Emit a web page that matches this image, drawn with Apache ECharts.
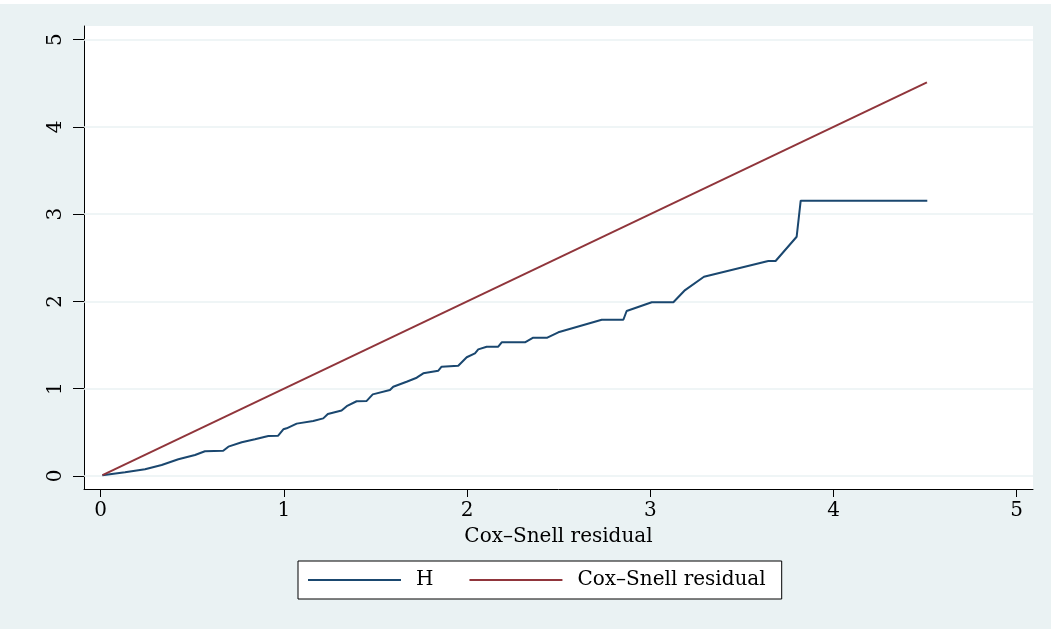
<!DOCTYPE html>
<html>
<head>
<meta charset="utf-8">
<script src="https://cdn.jsdelivr.net/npm/echarts@6/dist/echarts.min.js"></script>
<style>
html,body{margin:0;padding:0;background:#fff;}
#main{width:1051px;height:629px;}
</style>
</head>
<body>
<div id="main"></div>
<script>
// Nelson-Aalen cumulative hazard H against Cox-Snell residual
var hX = [0.009,0.133,0.242,0.333,0.424,0.515,0.569,0.669,0.697,0.770,0.842,0.915,0.969,0.997,
    1.015,1.07,1.16,1.215,1.24,1.315,1.343,1.397,1.452,1.485,1.579,1.597,1.67,1.725,1.761,1.843,1.861,1.952,
    1.998,2.043,2.061,2.107,2.17,2.189,2.316,2.361,2.438,2.498,2.735,2.853,2.871,3.008,
    3.126,3.19,3.293,3.644,3.684,3.799,3.821,4.512];
var hY = [0.008,0.042,0.077,0.126,0.191,0.241,0.283,0.290,0.336,0.386,0.420,0.458,0.462,0.535,
    0.546,0.60,0.63,0.66,0.71,0.75,0.80,0.856,0.86,0.935,0.985,1.023,1.08,1.126,1.176,1.206,1.252,1.263,
    1.36,1.405,1.451,1.481,1.481,1.531,1.531,1.584,1.584,1.646,1.79,1.79,1.89,1.99,
    1.99,2.13,2.283,2.463,2.463,2.741,3.154,3.154];
var csX = [0.01, 4.51];
var csY = [0.01, 4.51];
var ticks = [0, 1, 2, 3, 4, 5];

var Mychart = echarts.init(document.getElementById('main'));
var font = 'DejaVu Serif';
var hData = hX.map(function (x, i) { return [x, hY[i]]; });
var csData = csX.map(function (x, i) { return [x, csY[i]]; });

var option = {
    backgroundColor: '#EAF2F3',
    animation: false,
    graphic: [{type: 'rect', left: 0, top: 0, shape: {width: 1051, height: 4}, style: {fill: '#fff'}}],
    grid: {left: 84, right: 18, top: 26, bottom: 140, show: true, backgroundColor: '#fff', borderWidth: 0},
    xAxis: {
        type: 'value', min: -0.091, max: 5.089,
        name: 'Cox–Snell residual', nameLocation: 'middle', nameGap: 38,
        nameTextStyle: {fontFamily: font, fontSize: 20, color: '#000'},
        axisLine: {onZero: false, lineStyle: {color: '#000', width: 1}},
        axisTick: {customValues: ticks, length: 8, lineStyle: {color: '#000'}},
        axisLabel: {customValues: ticks, fontFamily: font, fontSize: 20, color: '#000', margin: 12},
        splitLine: {show: false}
    },
    yAxis: {
        type: 'value', min: -0.149, max: 5.155,
        axisLine: {show: true, onZero: false, lineStyle: {color: '#000', width: 1}},
        axisTick: {show: true, customValues: ticks, length: 11, lineStyle: {color: '#000'}},
        axisLabel: {customValues: ticks, rotate: 90, fontFamily: font, fontSize: 20, color: '#000', margin: 18},
        splitLine: {show: false}
    },
    legend: {
        left: 298, top: 561,
        backgroundColor: '#fff', borderColor: '#000', borderWidth: 1, borderRadius: 0,
        padding: [9, 16, 9, 10],
        icon: 'rect', itemWidth: 93, itemHeight: 2, itemGap: 36,
        textStyle: {fontFamily: font, fontSize: 20, color: '#000', padding: [0, 0, 0, 10]},
        data: ['H', 'Cox–Snell residual']
    },
    series: [{
        name: 'H', type: 'line', data: hData, showSymbol: false, symbol: 'none',
        lineStyle: {color: '#1A476F', width: 2}, itemStyle: {color: '#1A476F'}, z: 3,
        markLine: {
            silent: true, symbol: 'none', z: 1, label: {show: false},
            lineStyle: {color: '#EAF2F3', width: 1.5, type: 'solid'},
            data: ticks.map(function (t) { return {yAxis: t}; })
        }
    }, {
        name: 'Cox–Snell residual', type: 'line', data: csData, showSymbol: false, symbol: 'none',
        lineStyle: {color: '#90353B', width: 2}, itemStyle: {color: '#90353B'}, z: 3
    }]
};
Mychart.setOption(option);
</script>
</body>
</html>
